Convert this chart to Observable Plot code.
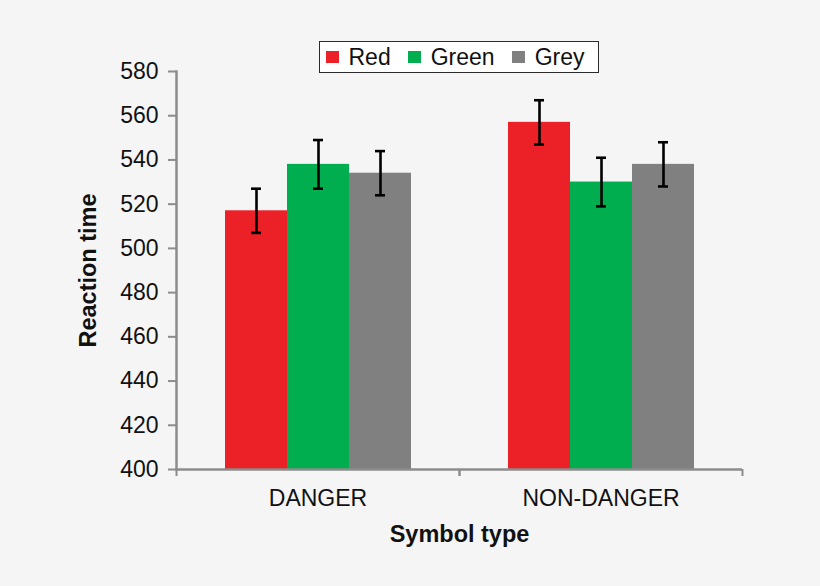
<!DOCTYPE html>
<html>
<head>
<meta charset="utf-8">
<script src="https://cdn.jsdelivr.net/npm/d3@7"></script>
<script src="https://cdn.jsdelivr.net/npm/@observablehq/plot@0.6"></script>
<style>
  html, body { margin: 0; padding: 0; background: #f5f5f5; }
  #wrap { position: relative; width: 820px; height: 586px; overflow: hidden; }
  #legend {
    position: absolute; left: 319px; top: 41px; width: 280px; height: 32px;
    box-sizing: border-box; border: 1.5px solid #2b2b2b; background: #fff;
    display: flex; align-items: center; padding-left: 6px;
    font-family: "Liberation Sans", Arial, sans-serif; font-size: 23px; color: #111;
  }
  #legend .sw { width: 12.5px; height: 12.5px; margin-right: 10px; flex: none; }
  #legend .it { display: flex; align-items: center; margin-right: 17.5px; line-height: 1; }
</style>
</head>
<body>
<div id="wrap"></div>
<script>
// ---- data ----
const groups = ["DANGER", "NON-DANGER"];
const series = ["Red", "Green", "Grey"];
const colors = ["#ec2027", "#00ae4f", "#808080"];
const dangerValues = [517, 538, 534];
const nonDangerValues = [557, 530, 538];
const dangerErrors = [10, 11, 10];
const nonDangerErrors = [10, 11, 10];
const yTicks = [400, 420, 440, 460, 480, 500, 520, 540, 560, 580];
const yDomain = [400, 580];
const xTitle = "Symbol type";
const yTitle = "Reaction time";

const groupValues = [dangerValues, nonDangerValues];
const groupErrors = [dangerErrors, nonDangerErrors];
const data = [];
groups.forEach((g, gi) => series.forEach((s, si) => {
  data.push({group: g, series: s, value: groupValues[gi][si], err: groupErrors[gi][si]});
}));

const W = 820, H = 586, mL = 176, mR = 78, mT = 71, mB = 117;
const halfStep = (W - mL - mR) / groups.length / 2;
const axisColor = "#8c8c8c";
const font = "'Liberation Sans', Arial, Helvetica, sans-serif";

const chart = Plot.plot({
  width: W, height: H,
  marginLeft: mL, marginRight: mR, marginTop: mT, marginBottom: mB,
  style: {background: "#f5f5f5", fontFamily: font, fontSize: "23px", color: "#111", overflow: "visible"},
  fx: {domain: groups, padding: 0, label: null, axis: null},
  x: {domain: series, paddingInner: 0, paddingOuter: 0.75, axis: null},
  y: {domain: yDomain, ticks: yTicks, label: null, axis: null},
  color: {type: "ordinal", domain: series, range: colors},
  marks: [
    Plot.barY(data, {fx: "group", x: "series", y1: yDomain[0], y2: "value", fill: {value: "series", scale: "color"}}),
    Plot.ruleX(data, {fx: "group", x: "series", y1: d => d.value - d.err, y2: d => d.value + d.err, stroke: "#000", strokeWidth: 2.6}),
    Plot.tickY(data, {fx: "group", x: "series", y: d => d.value + d.err, insetLeft: 26, insetRight: 26, stroke: "#000", strokeWidth: 2.6}),
    Plot.tickY(data, {fx: "group", x: "series", y: d => d.value - d.err, insetLeft: 26, insetRight: 26, stroke: "#000", strokeWidth: 2.6}),
    // axis lines
    Plot.ruleY([yDomain[0]], {stroke: axisColor, strokeWidth: 2.5}),
    Plot.frame({anchor: "left", facetAnchor: "left", stroke: axisColor, strokeWidth: 2.5}),
    // y axis ticks and labels
    Plot.axisY({ticks: yTicks, tickSize: 8, text: null, label: null, stroke: axisColor, strokeWidth: 2}),
    Plot.axisY({ticks: yTicks, tickSize: 0, tickPadding: 18, label: null, fill: "#111", fontSize: 23}),
    Plot.axisY({ticks: [], tickSize: 0, text: null, label: yTitle, labelArrow: "none", labelAnchor: "center", labelOffset: 97, fontSize: 23.5, fontWeight: "bold", fill: "#111"}),
    // x axis boundary ticks
    Plot.axisFx({anchor: "bottom", tickSize: 7, text: null, label: null, dx: -halfStep, stroke: axisColor, strokeWidth: 2}),
    Plot.axisFx({anchor: "bottom", tickSize: 7, text: null, label: null, dx: halfStep, stroke: axisColor, strokeWidth: 2}),
    Plot.axisFx({anchor: "bottom", tickSize: 0, tickPadding: 20, label: null, fill: "#111", fontSize: 23}),
    Plot.axisFx({anchor: "bottom", tickSize: 0, text: null, ticks: [], label: xTitle, labelArrow: "none", labelAnchor: "center", labelOffset: 72, fontSize: 23.5, fontWeight: "bold", fill: "#111"})
  ]
});

const wrap = document.getElementById("wrap");
wrap.appendChild(chart);

// legend
const legend = document.createElement("div");
legend.id = "legend";
series.forEach((s, i) => {
  const it = document.createElement("div");
  it.className = "it";
  const sw = document.createElement("span");
  sw.className = "sw";
  sw.style.background = colors[i];
  const t = document.createElement("span");
  t.textContent = s;
  it.appendChild(sw); it.appendChild(t);
  legend.appendChild(it);
});
wrap.appendChild(legend);
</script>
</body>
</html>
